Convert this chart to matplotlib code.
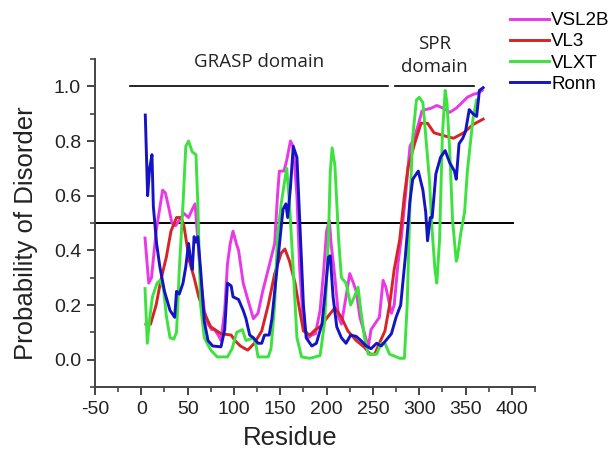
import matplotlib
matplotlib.use("Agg")
import matplotlib.pyplot as plt
from matplotlib.ticker import MultipleLocator

# ДАННЫЕ

vsl2b_x = [4, 8, 11, 16, 23, 26, 30, 33, 37, 41, 46, 51, 55, 58, 61, 64, 68, 72, 76, 79,
           83, 86, 90, 93, 96, 99, 103, 105, 110, 115, 121, 126, 131, 137, 144, 147, 149,
           154, 157, 161, 164, 168, 171, 175, 180, 184, 188, 193, 197, 200, 203, 205, 209,
           213, 216, 221, 225, 229, 232, 236, 241, 245, 248, 252, 257, 261, 264, 270, 273,
           277, 281, 286, 290, 295, 299, 303, 307, 313, 319, 326, 333, 340, 346, 352, 358,
           363, 368]
vsl2b_y = [0.445, 0.28, 0.30, 0.47, 0.62, 0.61, 0.55, 0.50, 0.49, 0.51, 0.535, 0.52, 0.55,
           0.57, 0.44, 0.30, 0.18, 0.13, 0.11, 0.11, 0.09, 0.07, 0.18, 0.35, 0.425, 0.47,
           0.42, 0.40, 0.28, 0.22, 0.15, 0.17, 0.25, 0.33, 0.425, 0.60, 0.69, 0.69, 0.73,
           0.80, 0.78, 0.60, 0.33, 0.13, 0.08, 0.09, 0.095, 0.18, 0.33, 0.47, 0.51, 0.42,
           0.30, 0.155, 0.13, 0.23, 0.315, 0.28, 0.25, 0.155, 0.095, 0.045, 0.11, 0.13,
           0.155, 0.29, 0.265, 0.17, 0.20, 0.35, 0.455, 0.63, 0.78, 0.815, 0.86, 0.91, 0.915,
           0.92, 0.93, 0.92, 0.905, 0.92, 0.94, 0.96, 0.97, 0.975, 0.985]

vl3_x = [5, 10, 16, 21, 27, 32, 38, 43, 46, 52, 57, 62, 68, 75, 86, 97, 101, 107, 112, 115,
         122, 130, 137, 144, 151, 155, 160, 166, 171, 175, 182, 188, 193, 202, 209, 216, 223,
         232, 241, 247, 252, 257, 263, 268, 273, 279, 284, 288, 295, 302, 309, 316, 326, 337,
         348, 358, 369]
vl3_y = [0.13, 0.13, 0.20, 0.29, 0.375, 0.47, 0.52, 0.52, 0.49, 0.36, 0.30, 0.23, 0.17,
         0.12, 0.095, 0.09, 0.07, 0.05, 0.04, 0.035, 0.06, 0.105, 0.20, 0.315, 0.39, 0.405,
         0.36, 0.28, 0.18, 0.105, 0.09, 0.11, 0.12, 0.16, 0.19, 0.155, 0.105, 0.07, 0.045,
         0.02, 0.02, 0.06, 0.105, 0.20, 0.33, 0.44, 0.60, 0.705, 0.79, 0.865, 0.865, 0.83,
         0.82, 0.81, 0.83, 0.86, 0.88]

vlxt_x = [4, 6.5, 9, 12, 17, 20, 24, 27, 31, 35, 38, 41, 45, 48, 51, 55, 59, 61, 64, 68, 75,
          82, 93, 98, 103, 109, 113, 121, 124, 126, 137, 140, 144, 147, 151, 155, 157, 160,
          164, 168, 173, 182, 193, 198, 202, 204, 206, 209, 213, 216, 221, 226, 230, 234,
          237, 241, 245, 254, 259, 263, 268, 279, 284, 287, 290, 293, 297, 300, 304, 307,
          311, 314, 317, 319, 322, 325, 328, 330, 333, 336, 340, 341, 345, 349, 352, 358, 362]
vlxt_y = [0.26, 0.06, 0.15, 0.23, 0.28, 0.29, 0.26, 0.16, 0.08, 0.075, 0.10, 0.33, 0.57,
          0.78, 0.80, 0.76, 0.75, 0.57, 0.20, 0.08, 0.035, 0.01, 0.01, 0.04, 0.10, 0.11,
          0.07, 0.08, 0.05, 0.01, 0.01, 0.04, 0.20, 0.45, 0.57, 0.66, 0.70, 0.57, 0.33, 0.08,
          0.01, 0.005, 0.015, 0.14, 0.44, 0.69, 0.775, 0.71, 0.44, 0.30, 0.28, 0.20, 0.23,
          0.265, 0.18, 0.08, 0.02, 0.02, 0.06, 0.06, 0.02, 0.005, 0.005, 0.20, 0.57, 0.815,
          0.95, 0.96, 0.94, 0.82, 0.66, 0.47, 0.33, 0.28, 0.44, 0.82, 0.985, 0.94, 0.76,
          0.51, 0.36, 0.37, 0.465, 0.54, 0.69, 0.88, 0.95]

ronn_x = [4.3, 6.8, 9, 11.5, 13, 16.5, 20, 25, 31, 36, 38, 41, 45, 48, 51, 53, 55, 57, 59,
          61, 64, 68, 72, 77, 86, 90, 93, 97, 99, 105, 110, 113, 117, 121, 126, 130, 133, 138,
          141, 147, 151, 153, 156, 158, 161, 164, 168, 171, 175, 178, 184, 189, 195, 198, 202,
          204, 207, 211, 216, 221, 226, 232, 237, 243, 248, 254, 259, 264, 270, 275, 280, 285,
          290, 293, 299, 304, 307, 309, 312, 314, 318, 323, 328, 333, 338, 340, 343, 347, 350,
          354, 358, 362, 365, 369]
ronn_y = [0.895, 0.60, 0.70, 0.75, 0.56, 0.425, 0.34, 0.25, 0.18, 0.155, 0.25, 0.24, 0.28,
          0.34, 0.425, 0.37, 0.33, 0.45, 0.43, 0.45, 0.33, 0.14, 0.07, 0.05, 0.047, 0.11,
          0.28, 0.27, 0.23, 0.22, 0.18, 0.15, 0.09, 0.08, 0.06, 0.06, 0.09, 0.09, 0.15, 0.35,
          0.485, 0.55, 0.57, 0.52, 0.63, 0.78, 0.74, 0.51, 0.20, 0.08, 0.05, 0.06, 0.13,
          0.23, 0.375, 0.38, 0.23, 0.12, 0.08, 0.06, 0.09, 0.085, 0.07, 0.05, 0.04, 0.06,
          0.05, 0.07, 0.095, 0.155, 0.20, 0.375, 0.58, 0.66, 0.69, 0.62, 0.54, 0.435, 0.52,
          0.52, 0.68, 0.74, 0.765, 0.72, 0.69, 0.66, 0.79, 0.81, 0.835, 0.915, 0.90, 0.89,
          0.985, 0.995]

series_names = ["VSL2B", "VL3", "VLXT", "Ronn"]
series_colors = ["#e838e8", "#d82424", "#3ee23e", "#1414c4"]

# домены: (подпись, начало, конец)
domain_names = ["GRASP domain", "SPR\ndomain"]
domain_start = [-12, 274]
domain_end = [266, 359]
threshold = 0.5

x_ticks = [-50, 0, 50, 100, 150, 200, 250, 300, 350, 400]
y_ticks = [0.0, 0.2, 0.4, 0.6, 0.8, 1.0]

# ГРАФИК

plt.rcParams['font.family'] = ['Liberation Sans', 'DejaVu Sans']

fig = plt.figure(figsize=(6.12, 4.5), dpi=100)
ax = fig.add_axes([95 / 612, 1 - 387 / 450, 440 / 612, 328 / 450])

xs = [vsl2b_x, vl3_x, vlxt_x, ronn_x]
ys = [vsl2b_y, vl3_y, vlxt_y, ronn_y]
for x, y, name, col in zip(xs, ys, series_names, series_colors):
    ax.plot(x, y, color=col, linewidth=2.1, label=name)

# порог 0.5
ax.plot([-50, 401], [threshold, threshold], color='black', linewidth=1.4, zorder=1)

# линии доменов и подписи
for name, a, b in zip(domain_names, domain_start, domain_end):
    ax.plot([a, b], [1.0, 1.0], color='black', linewidth=1.2)
grasp_mid = (domain_start[0] + domain_end[0]) / 2
spr_mid = (domain_start[1] + domain_end[1]) / 2
ax.text(grasp_mid, 1.088, domain_names[0], ha='center', va='center',
        fontsize=13.5, family='Open Sans', color='#222222', clip_on=False)
ax.text(spr_mid, 1.113, domain_names[1], ha='center', va='center',
        fontsize=13.5, family='Open Sans', color='#222222', clip_on=False,
        linespacing=1.3)

ax.set_xlim(-50, 425)
ax.set_ylim(-0.1, 1.1)
ax.set_xticks(x_ticks)
ax.set_yticks(y_ticks)
ax.set_xticklabels([str(t) for t in x_ticks])
ax.set_yticklabels([f"{t:.1f}" for t in y_ticks])
ax.xaxis.set_minor_locator(MultipleLocator(25))
ax.yaxis.set_minor_locator(MultipleLocator(0.1))

for side in ['top', 'right']:
    ax.spines[side].set_visible(False)
for side in ['left', 'bottom']:
    ax.spines[side].set_linewidth(1.4)
    ax.spines[side].set_color('#444444')

ax.tick_params(which='major', direction='out', length=6, width=1.4, colors='#444444',
               labelsize=14, labelcolor='#222222', pad=4)
ax.tick_params(which='minor', direction='out', length=3.5, width=1.2, colors='#444444')

ax.set_xlabel("Residue", fontsize=18.5, color='#222222')
ax.set_ylabel("Probability of Disorder", fontsize=18.5, color='#222222')
ax.xaxis.set_label_coords(0.443, -0.12)
ax.yaxis.set_label_coords(-0.13, 0.47)

# легенда справа сверху
fig.legend(loc='upper left', bbox_to_anchor=(510 / 612, 1 - 12 / 450), frameon=False,
           fontsize=13.5, handlelength=2.1, handletextpad=0.1, labelspacing=0.22,
           borderpad=0, borderaxespad=0)

fig.savefig("out.png", dpi=100)
